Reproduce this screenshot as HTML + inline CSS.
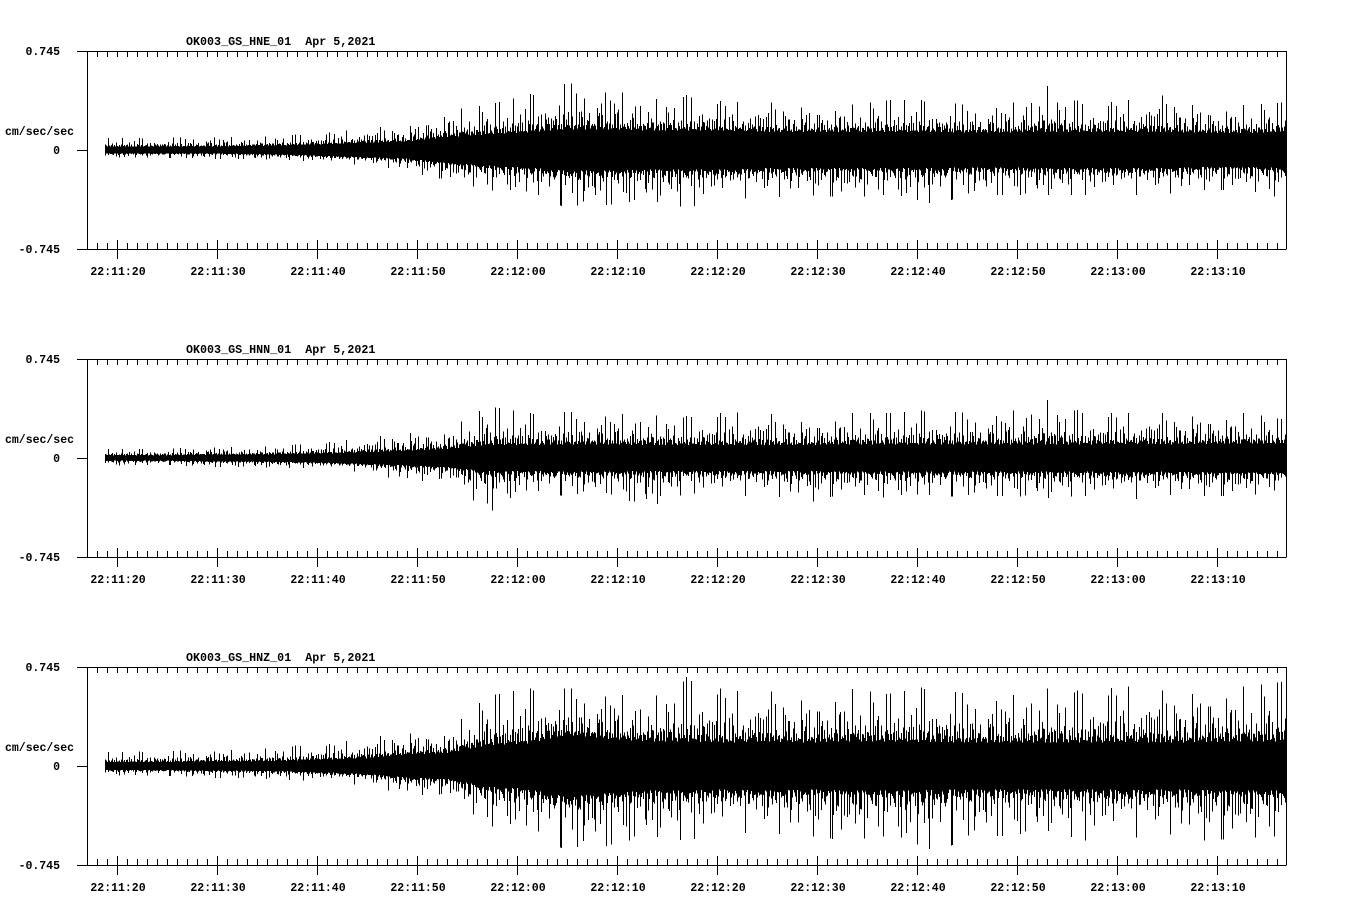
<!DOCTYPE html>
<html><head><meta charset="utf-8"><style>
html,body{margin:0;padding:0;background:#fff;}
svg{display:block;}
text{font-family:"Liberation Mono",monospace;font-weight:bold;font-size:11.5px;fill:#000;white-space:pre;}
</style></head><body>
<svg id="chart" width="1358" height="924" viewBox="0 0 1358 924" xmlns="http://www.w3.org/2000/svg"></svg>
<script>
// Data: amplitude envelopes (cm/sec/sec) in 4-second bins starting at 22:11:19
const channels = ["OK003_GS_HNE_01", "OK003_GS_HNN_01", "OK003_GS_HNZ_01"];
const dateLabel = "Apr 5,2021";
const fullScale = 0.745;
const timeTicks = ["22:11:20","22:11:30","22:11:40","22:11:50","22:12:00","22:12:10","22:12:20","22:12:30","22:12:40","22:12:50","22:13:00","22:13:10"];
const hneCore = [.038,.038,.038,.045,.053,.068,.083,.098,.15,.18,.203,.24,.24,.225,.225,.225,.21,.21,.21,.21,.21,.203,.203,.21,.21,.21,.21,.195,.195,.21];
const hneUp = [.09,.09,.105,.09,.113,.128,.165,.188,.3,.338,.413,.503,.465,.375,.413,.36,.36,.338,.338,.375,.375,.338,.338,.48,.338,.375,.413,.338,.338,.36];
const hneDn = [.06,.06,.068,.068,.075,.098,.113,.165,.225,.3,.338,.435,.413,.375,.435,.36,.375,.338,.36,.338,.435,.338,.338,.338,.338,.338,.338,.3,.3,.375];
const hnnCore = [.03,.03,.038,.038,.045,.053,.068,.083,.105,.15,.15,.158,.158,.15,.15,.15,.15,.15,.158,.158,.158,.158,.158,.158,.158,.165,.158,.165,.165,.165];
const hnnUp = [.068,.068,.09,.075,.098,.12,.15,.203,.21,.39,.338,.345,.338,.323,.315,.345,.338,.285,.338,.338,.36,.338,.345,.435,.338,.338,.338,.338,.338,.285];
const hnnDn = [.06,.053,.068,.068,.075,.075,.113,.188,.15,.413,.263,.285,.263,.375,.263,.285,.285,.338,.263,.3,.3,.285,.285,.3,.285,.315,.285,.285,.285,.225];
const hnzCore = [.045,.045,.053,.053,.06,.075,.09,.135,.15,.24,.263,.36,.315,.285,.285,.27,.285,.27,.285,.285,.278,.27,.27,.27,.27,.278,.27,.278,.285,.285];
const hnzUp = [.105,.113,.12,.12,.15,.165,.21,.263,.263,.525,.585,.585,.563,.488,.675,.563,.563,.525,.585,.54,.6,.54,.525,.585,.563,.6,.563,.6,.6,.638];
const hnzDn = [.075,.075,.09,.09,.105,.113,.15,.225,.21,.45,.488,.638,.6,.525,.563,.488,.525,.525,.563,.525,.69,.54,.525,.488,.563,.54,.525,.563,.54,.525];
const binStart = -1, binWidth = 4; // seconds after 22:11:20
const dataStart = -1.2;

const series = [[hneCore,hneUp,hneDn],[hnnCore,hnnUp,hnnDn],[hnzCore,hnzUp,hnzDn]];
const svg = document.getElementById('chart');
const NS = "http://www.w3.org/2000/svg";
const X0 = 117, PXS = 10, LEFT = 87, RIGHT = 1286, H = 198;
const tops = [51, 359, 667];
function xOf(t){ return X0 + t*PXS; }
function tOf(x){ return (x - X0)/PXS; }
function el(tag, attrs, parent){ const e=document.createElementNS(NS,tag); for(const k in attrs) e.setAttribute(k,attrs[k]); (parent||svg).appendChild(e); return e; }
function interp(arr, t){
  let f = (t - binStart)/binWidth - 0.5;
  if (f <= 0) return arr[0];
  if (f >= arr.length-1) return arr[arr.length-1];
  const i = Math.floor(f), r = f - i;
  return arr[i]*(1-r) + arr[i+1]*r;
}
// rendering texture (not data)
const texA = [0.15,0.4,0.05,0.6,0.25,0.1,0.8,0.3,0.0,0.45,0.2,1.0,0.1,0.35,0.55,0.05,0.25,0.7,0.15,0.4,0.0,0.3,0.9];
const texB = [0.3,0.0,0.6,0.1,0.2,0.9,0.05,0.4,0.15,0.7,0.0,0.25,0.5,0.1,1.0,0.2,0.35];
function tx(k){ const a = texA[k % texA.length], b = texB[(k*3+5) % texB.length]; return Math.min(1, a*b*1.6 + 0.15*a); }

tops.forEach((T, p) => {
  const g = el('g', {}, svg);
  
  
  const yScale = v => T + H/2 - v/fullScale*(H/2);
  const title = el('text', {x:186, y:T-6, style:'font-size:11.7px'}, g);
  
  
  title.textContent = channels[p] + "  " + dateLabel;
  const lab = [[fullScale.toFixed(3), T+4], ["0", T+H/2+4], ["-" + fullScale.toFixed(3), T+H+4]];
  lab.forEach(l => {
    const t = el('text', {x:60, y:l[1], 'text-anchor':'end'}, g);
    
    
    t.textContent = l[0];
  });
  const yt = el('text', {x:5, y:T+84}, g);
  
  
  yt.textContent = "cm/sec/sec";
  const c = series[p];
  let d = "";
  let k = 0;
  for (let x = Math.round(xOf(dataStart)); x <= RIGHT; x++, k++) {
    const t = tOf(x);
    const core = interp(c[0], t), up = interp(c[1], t), dn = interp(c[2], t);
    const base = 0.65;
    const a = core*base + (up - core*base)*tx(k);
    const b = core*base + (dn - core*base)*tx(k*7+11);
    d += "M" + (x+0.5) + " " + yScale(a).toFixed(1) + "V" + yScale(-b).toFixed(1);
  }
  const w = el('path', {d:d, stroke:'#000', 'stroke-width':1, fill:'none', 'shape-rendering':'crispEdges'}, g);
  
  
  let fd = `M77 ${T+0.5}H${RIGHT+0.5}M77 ${T+H+0.5}H${RIGHT+0.5}M${LEFT+0.5} ${T}V${T+H}M${RIGHT+0.5} ${T}V${T+H}M77 ${T+H/2+0.5}H${LEFT}`;
  for (let s = -2; s <= 116; s++) {
    const x = xOf(s) + 0.5;
    fd += `M${x} ${T}V${T+6}`;
    if (s % 10 === 0) fd += `M${x} ${T+H-9}V${T+H+10}`;
    else fd += `M${x} ${T+H-6}V${T+H}`;
  }
  const fr = el('path', {d:fd, stroke:'#000', 'stroke-width':1, fill:'none', 'shape-rendering':'crispEdges'}, g);
  
  
  timeTicks.forEach((lbl, i) => {
    const t = el('text', {x:xOf(i*10)+1, y:T+224, 'text-anchor':'middle'}, g);
    
    
    t.textContent = lbl;
  });
});
</script>
</body></html>
